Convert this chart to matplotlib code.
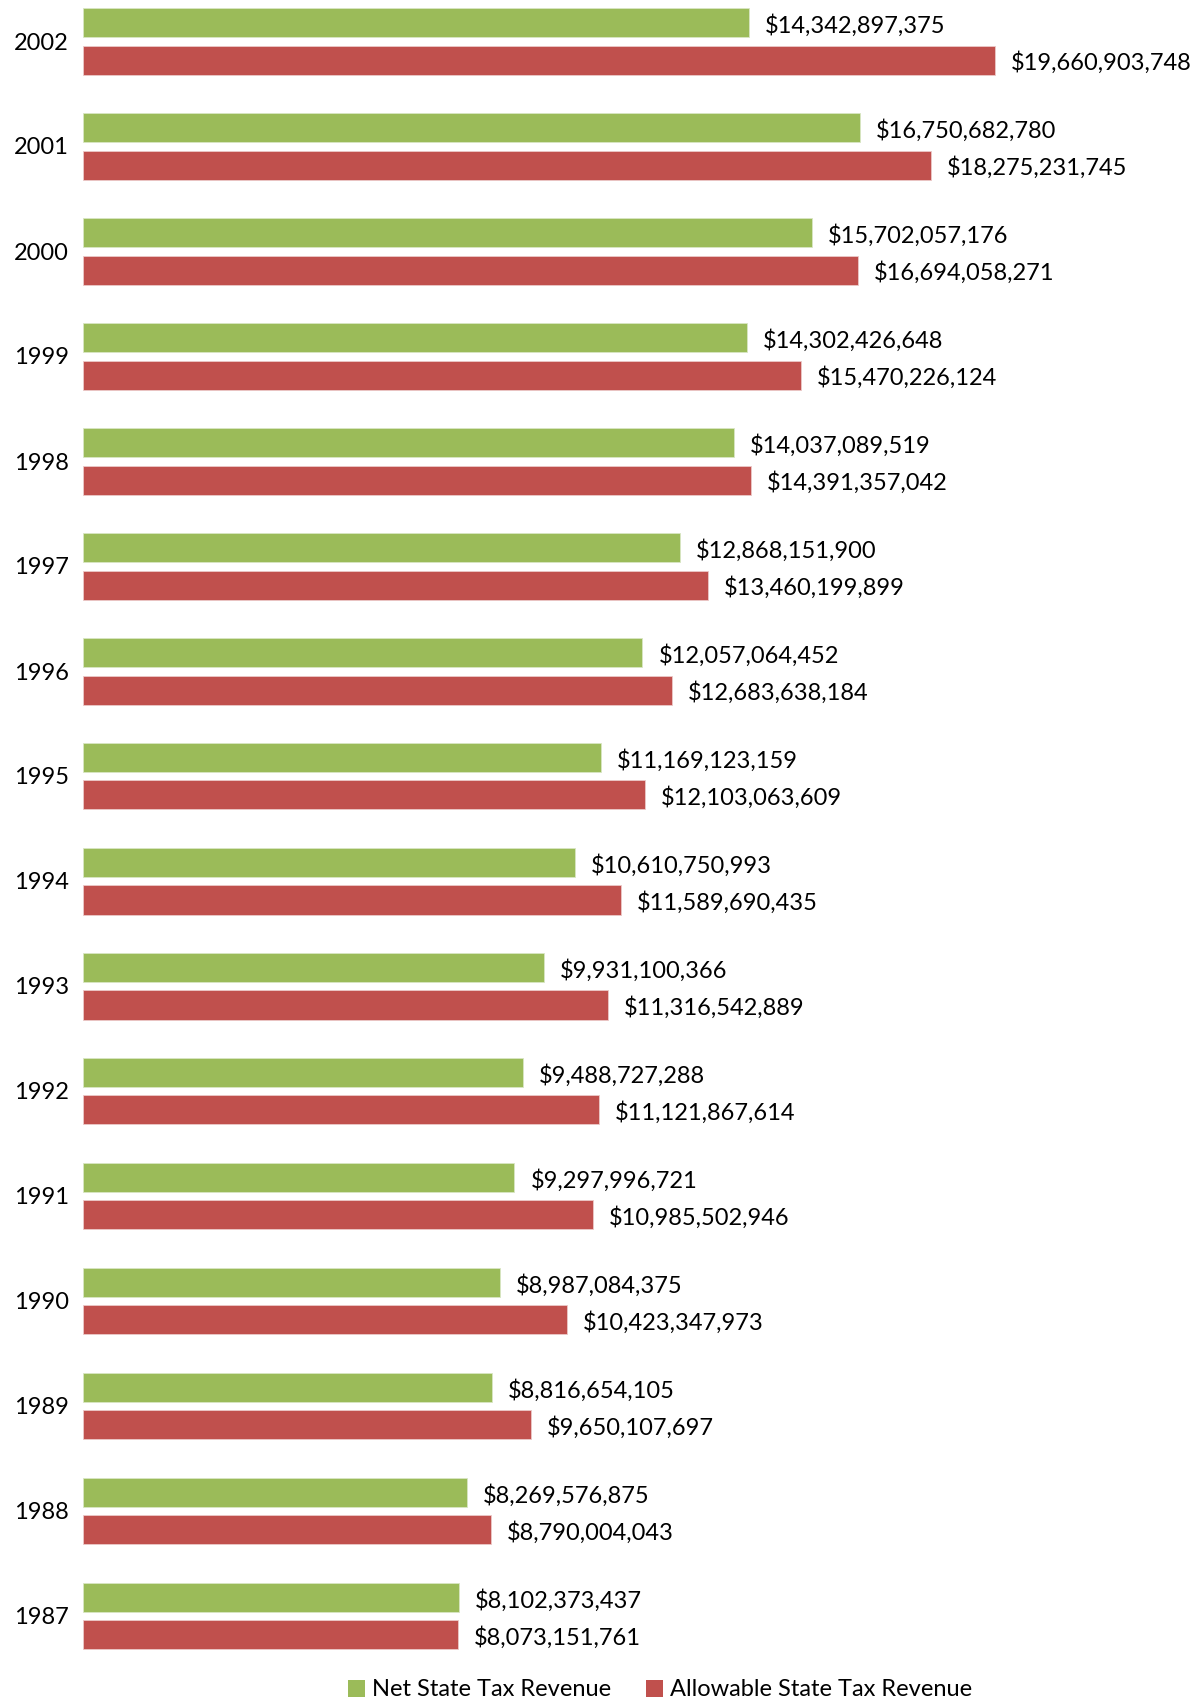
import matplotlib
matplotlib.use("Agg")
import matplotlib.pyplot as plt
from matplotlib.patches import Patch
import numpy as np

years = ["2002", "2001", "2000", "1999", "1998", "1997", "1996", "1995",
         "1994", "1993", "1992", "1991", "1990", "1989", "1988", "1987"]
net_revenue = [14342897375, 16750682780, 15702057176, 14302426648, 14037089519,
               12868151900, 12057064452, 11169123159, 10610750993, 9931100366,
               9488727288, 9297996721, 8987084375, 8816654105, 8269576875,
               8102373437]
allowable_revenue = [19660903748, 18275231745, 16694058271, 15470226124, 14391357042,
                     13460199899, 12683638184, 12103063609, 11589690435, 11316542889,
                     11121867614, 10985502946, 10423347973, 9650107697, 8790004043,
                     8073151761]
series_names = ["Net State Tax Revenue", "Allowable State Tax Revenue"]
colors = ["#9BBB59", "#C0504D"]

plt.rcParams['font.family'] = ['Lato', 'DejaVu Sans']

W, H = 1201, 1700
fig = plt.figure(figsize=(W / 100, H / 100), dpi=100)
ax_left = 83 / W
ax_bottom = 1 - 1660 / H
ax = fig.add_axes([ax_left, ax_bottom, 1 - ax_left, 1660 / H])

pitch = 105.0
y = np.arange(len(years))
bh = 29 / pitch
off_g = -18.5 / pitch
off_r = 19.0 / pitch

ax.barh(y + off_g, net_revenue, height=bh, color=colors[0], edgecolor="#d9e6c4", linewidth=0.6)
ax.barh(y + off_r, allowable_revenue, height=bh, color=colors[1], edgecolor="#ecc9c8", linewidth=0.6)

fs = 17
for yi, v in zip(y + off_g, net_revenue):
    ax.annotate(f"${v:,.0f}", (v, yi), xytext=(11.5, -2.2), textcoords="offset points",
                va="center", ha="left", fontsize=fs, color="black")
for yi, v in zip(y + off_r, allowable_revenue):
    ax.annotate(f"${v:,.0f}", (v, yi), xytext=(11.5, -1.5), textcoords="offset points",
                va="center", ha="left", fontsize=fs, color="black")

px_per_unit = 46.4 / 1e9
ax.set_xlim(0, (W - 83) / px_per_unit)
ax.set_ylim((1660 - 41) / pitch, -41 / pitch)

ax.set_yticks(y)
ax.set_yticklabels(years, fontsize=fs)
ax.tick_params(axis="y", length=0, pad=10)
ax.set_xticks([])
for s in ax.spines.values():
    s.set_visible(False)

handles = [Patch(facecolor=c, edgecolor="none") for c in colors]
fig.legend(handles, series_names, loc="center", bbox_to_anchor=(660 / W, 1 - 1690 / H),
           ncol=2, frameon=False, fontsize=fs, handlelength=0.7, handleheight=0.7,
           handletextpad=0.3, columnspacing=1.5)

fig.savefig("out.png", dpi=100)
